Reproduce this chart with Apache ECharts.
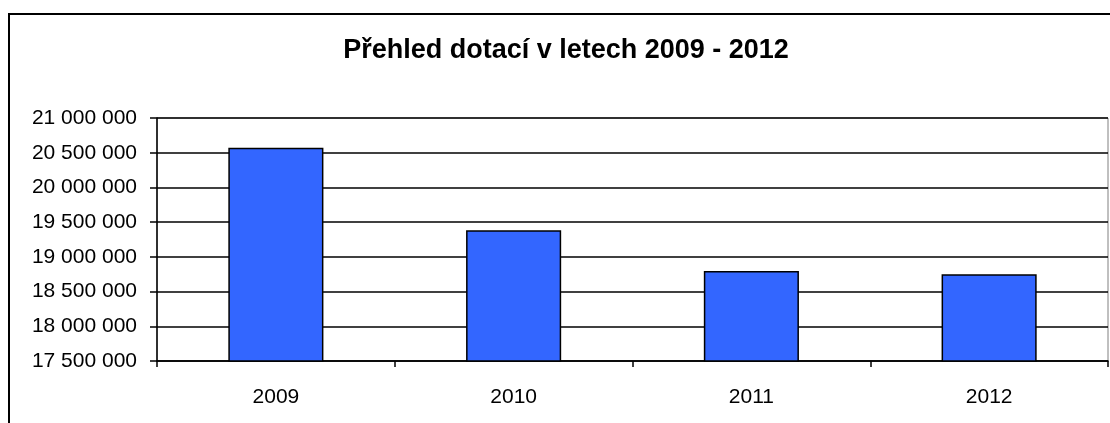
<!DOCTYPE html>
<html lang="cs">
	<head>
		<meta charset="UTF-8" />
		<title>Přehled dotací</title>
		<style>
			html, body { margin: 0; padding: 0; background: #fff; }
			#dotace-chart { width: 1110px; height: 423px; }
		</style>
	</head>
	<body>
		<div id="dotace-chart"></div>
		<script src="https://cdn.jsdelivr.net/npm/echarts@6/dist/echarts.min.js"></script>
		<script>
			const years = ["2009", "2010", "2011", "2012"];
			const dotace = [20572000, 19385000, 18798000, 18751000];
			const yMin = 17500000;
			const yMax = 21000000;
			const yStep = 500000;

			const font = 'Arial, "Liberation Sans", sans-serif';

			// mezery jako oddělovač tisíců
			function fmt(v) {
				return String(v).replace(/\B(?=(\d{3})+(?!\d))/g, " ");
			}

			let chart = echarts.init(document.getElementById("dotace-chart"));
			let option = {
				animation: false,
				backgroundColor: "#fff",
				graphic: [
					{
						type: "rect",
						shape: { x: 9, y: 14, width: 1130, height: 440 },
						style: { fill: "none", stroke: "#000", lineWidth: 2 },
						z: 0,
					},
				],
				title: {
					text: "Přehled dotací v letech 2009 - 2012",
					left: 561,
					top: 32,
					textAlign: "center",
					textStyle: {
						fontFamily: font,
						fontSize: 27,
						fontWeight: "bold",
						color: "#000",
					},
				},
				grid: {
					left: 157,
					top: 118,
					width: 951,
					height: 243,
					show: true,
					borderColor: "#808080",
					borderWidth: 1,
					backgroundColor: "#fff",
				},
				xAxis: {
					type: "category",
					data: years,
					boundaryGap: true,
					axisLine: { lineStyle: { color: "#000", width: 1.5 } },
					axisTick: { show: true, length: 6, inside: false, lineStyle: { color: "#000", width: 1.5 } },
					axisLabel: {
						margin: 26,
						fontFamily: font,
						fontSize: 21,
						color: "#000",
					},
				},
				yAxis: {
					type: "value",
					min: yMin,
					max: yMax,
					interval: yStep,
					axisLine: { show: true, lineStyle: { color: "#000", width: 1.5 } },
					axisTick: { show: true, length: 7, lineStyle: { color: "#000", width: 1.5 } },
					splitLine: { show: true, lineStyle: { color: "#000", width: 1.5 } },
					axisLabel: {
						margin: 20,
						fontFamily: font,
						fontSize: 21,
						color: "#000",
						formatter: fmt,
					},
				},
				series: [
					{
						name: "Dotace",
						type: "bar",
						data: dotace,
						barWidth: "40%",
						itemStyle: {
							color: "#3366FF",
							borderColor: "#000",
							borderWidth: 1.5,
						},
					},
				],
			};
			chart.setOption(option);
		</script>
	</body>
</html>
